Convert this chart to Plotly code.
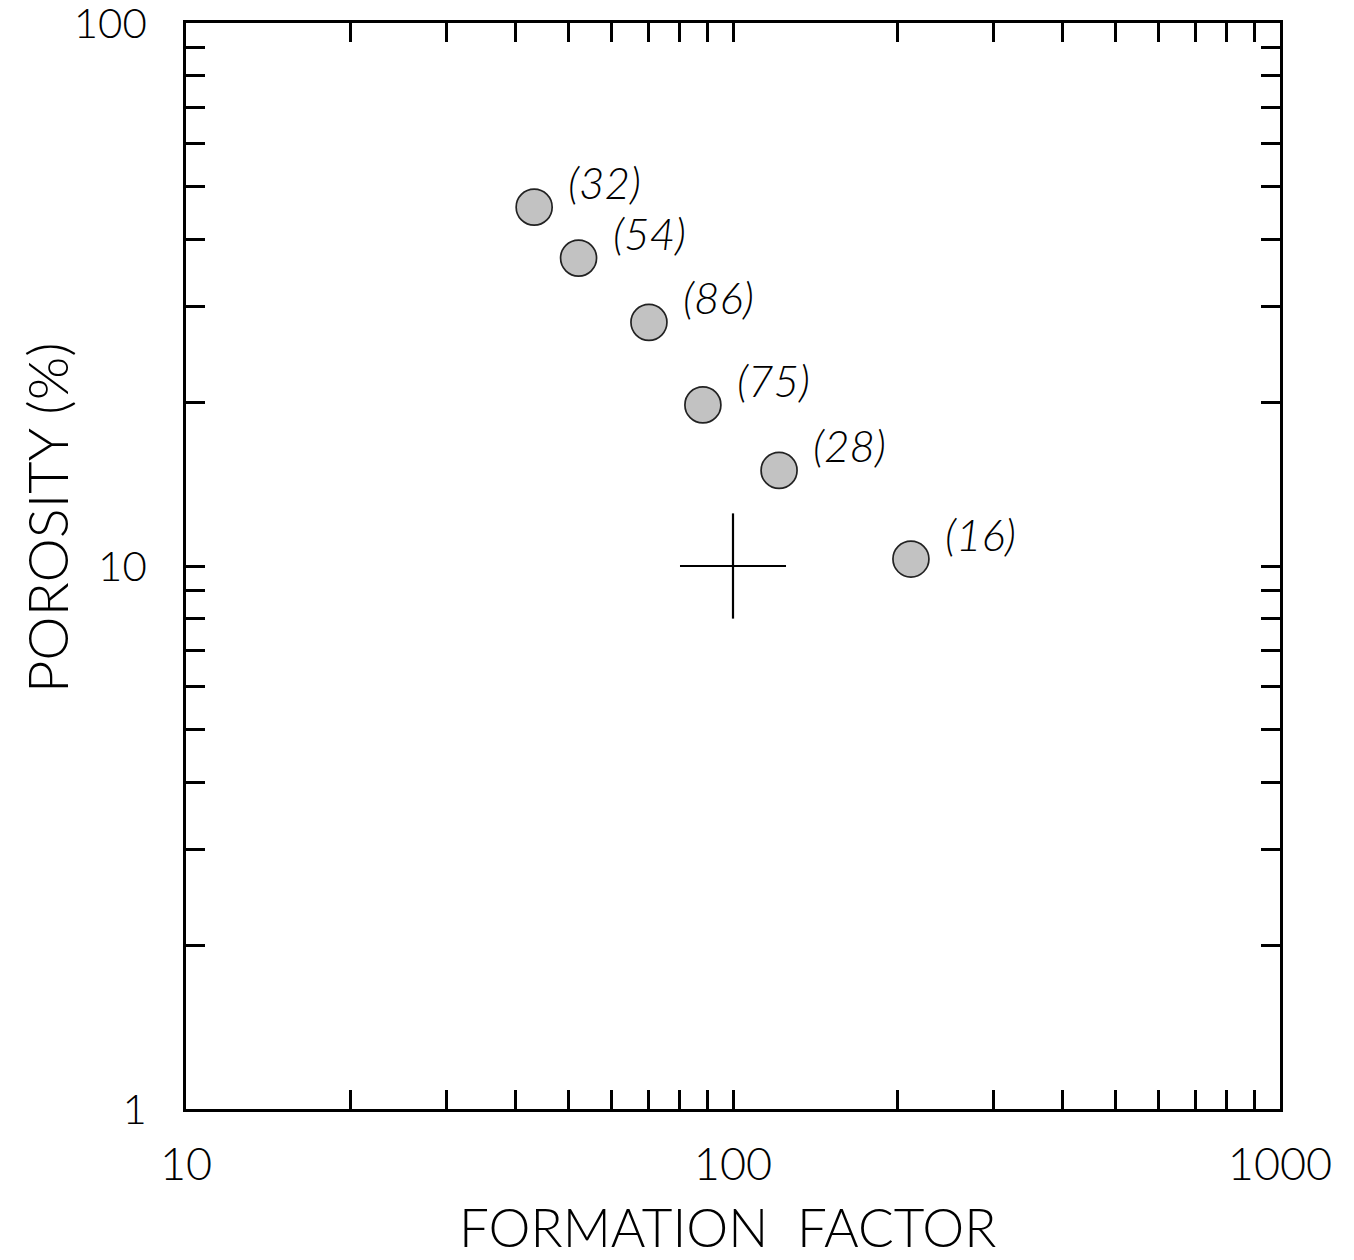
import numpy as np
import plotly.graph_objects as go

# ---- data ----
formation_factor = [43.3, 52.2, 70.2, 88.1, 121.4, 211.5]
porosity_pct = [45.8, 36.9, 28.1, 19.8, 15.0, 10.3]
sample_counts = ["(32)", "(54)", "(86)", "(75)", "(28)", "(16)"]

# uncertainty cross
cross_ff = [100]
cross_por = [10]
cross_ff_plus = [25]
cross_ff_minus = [20]
cross_por_plus = [2.5]
cross_por_minus = [2.0]

x_tickvals = [10, 20, 30, 40, 50, 60, 70, 80, 90, 100, 200, 300, 400, 500, 600, 700, 800, 900, 1000]
y_tickvals = [1, 2, 3, 4, 5, 6, 7, 8, 9, 10, 20, 30, 40, 50, 60, 70, 80, 90, 100]
major_labels = {1: "1", 10: "10", 100: "100", 1000: "1000"}

x_title = "FORMATION  FACTOR"
y_title = "POROSITY (%)"

FONT = "Lato"
W, H = 1354, 1260
OFF = 8  # page body margin in the browser
L, R, T, B = 178, 82, 15, 159
plot_h = H - T - B

fig = go.Figure()

fig.add_trace(go.Scatter(
    x=formation_factor, y=porosity_pct, mode="markers",
    marker=dict(size=36, color="#c2c2c2", line=dict(color="#222222", width=1.7)),
    showlegend=False, hoverinfo="x+y",
))

fig.add_trace(go.Scatter(
    x=cross_ff, y=cross_por, mode="markers",
    marker=dict(size=1, color="rgba(0,0,0,0)"),
    error_x=dict(type="data", symmetric=False, array=cross_ff_plus, arrayminus=cross_ff_minus,
                 width=0, thickness=2.2, color="black"),
    error_y=dict(type="data", symmetric=False, array=cross_por_plus, arrayminus=cross_por_minus,
                 width=0, thickness=2.2, color="black"),
    showlegend=False, hoverinfo="skip",
))

for fx, py, lab in zip(formation_factor, porosity_pct, sample_counts):
    fig.add_annotation(
        x=np.log10(fx), y=np.log10(py), xref="x", yref="y", text=lab,
        showarrow=False, xanchor="left", yanchor="middle", xshift=32, yshift=25,
        font=dict(family=FONT, size=44, style="italic", weight=300, color="black"),
    )

# axis titles (screen targets: x-title centre y=1226, y-title centre x=46, y=518)
fig.add_annotation(
    x=0.495, y=0, xref="paper", yref="paper", text=x_title, showarrow=False,
    xanchor="center", yanchor="middle", yshift=-(1226 - OFF - (H - B)),
    font=dict(family=FONT, size=53, weight=300, color="black"),
)
fig.add_annotation(
    x=0, y=(H - B - (518 - OFF)) / plot_h, xref="paper", yref="paper", text=y_title,
    showarrow=False, xanchor="center", yanchor="middle", xshift=-(L - (46 - OFF)), textangle=-90,
    font=dict(family=FONT, size=56, weight=300, color="black"),
)

axis_common = dict(
    type="log", showgrid=False, zeroline=False, automargin=False,
    showline=True, linecolor="black", linewidth=2.5, mirror="ticks",
    ticks="inside", ticklen=19, tickwidth=2.5, tickcolor="black",
    ticklabeloverflow="allow",
)

fig.update_layout(
    width=W, height=H,
    margin=dict(l=L, r=R, t=T, b=B, autoexpand=False),
    paper_bgcolor="white", plot_bgcolor="white",
    xaxis=dict(axis_common, range=[1, 3], tickvals=x_tickvals,
               ticktext=[major_labels.get(v, "") for v in x_tickvals],
               tickfont=dict(family=FONT, size=45, weight=300, color="black"),
               ticklabelstandoff=14),
    yaxis=dict(axis_common, range=[0, 2], tickvals=y_tickvals,
               ticktext=[major_labels.get(v, "") for v in y_tickvals],
               tickfont=dict(family=FONT, size=42, weight=300, color="black"),
               ticklabelstandoff=28),
)

fig.write_html("out.html")
